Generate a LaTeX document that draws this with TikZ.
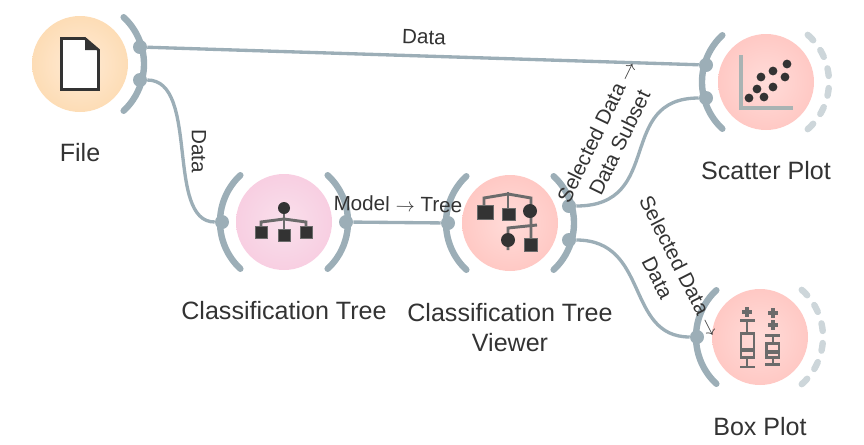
\documentclass[tikz,border=0pt]{standalone}
\usepackage{fontspec}
\setmainfont{Liberation Sans}

\definecolor{linkc}{HTML}{9CAEB7}
\definecolor{slotc}{HTML}{CDD6DA}
\definecolor{darkc}{HTML}{333333}
\definecolor{stemc}{HTML}{6B6B6B}
\definecolor{axisc}{HTML}{A9B3B3}
\definecolor{fileinner}{HTML}{FFEBD6}
\definecolor{fileouter}{HTML}{FBCE95}
\definecolor{treeinner}{HTML}{F9E0EC}
\definecolor{treeouter}{HTML}{F7BDD7}
\definecolor{plotinner}{HTML}{FFDCD9}
\definecolor{plotouter}{HTML}{FFB5AF}
\pgfdeclareradialshading{fileshade}{\pgfpoint{0bp}{0bp}}{color(0bp)=(fileinner); color(50bp)=(fileouter)}
\pgfdeclareradialshading{treeshade}{\pgfpoint{0bp}{0bp}}{color(0bp)=(treeinner); color(50bp)=(treeouter)}
\pgfdeclareradialshading{plotshade}{\pgfpoint{0bp}{0bp}}{color(0bp)=(plotinner); color(50bp)=(plotouter)}

\begin{document}
\begin{tikzpicture}[
  x=0.75pt, y=-0.75pt,
  widget/.style={circle, minimum size=72pt, inner sep=0pt},
  filew/.style={widget, shading=fileshade},
  treew/.style={widget, shading=treeshade},
  plotw/.style={widget, shading=plotshade},
  title/.style={font=\fontsize{18.8}{22.5}\selectfont, text=darkc, align=center},
  port/.style={circle, fill=linkc, minimum size=10.5pt, inner sep=0pt},
  slot/.style={linkc, line width=4.8pt, line cap=round},
  free/.style={slotc, line width=4.8pt, line cap=round},
  link/.style={linkc, line width=2.5pt},
  tag/.style={font=\fontsize{15.5}{19}\selectfont, text=darkc, align=center, inner sep=0pt},
  stem/.style={stemc, line width=2.2pt},
  leaf/.style={fill=darkc, draw=stemc, line width=0.5pt},
  dot/.style={fill=darkc}]

\useasboundingbox (0,0) rectangle (864,444);

% widgets
\node[filew] (file) at (80,64) {};
\node[treew] (tree) at (284,222) {};
\node[plotw] (viewer) at (510,223) {};
\node[plotw] (scatter) at (766,82) {};
\node[plotw] (box) at (760,337) {};

% titles
\node[title] (filet) at (80,153) {File};
\node[title] (treet) at (284,311) {Classification Tree};
\node[title] (viewert) at (510,328) {Classification Tree\\Viewer};
\node[title] (scattert) at (766,171) {Scatter Plot};
\node[title] (boxt) at (760,427) {Box Plot};

% channel arcs
\draw[slot] (file) ++(-47:64) arc[start angle=-47, end angle=47, radius=64];
\draw[slot] (tree) ++(133:64) arc[start angle=133, end angle=227, radius=64];
\draw[slot] (tree) ++(-47:64) arc[start angle=-47, end angle=47, radius=64];
\draw[slot] (viewer) ++(133:64) arc[start angle=133, end angle=227, radius=64];
\draw[slot] (viewer) ++(-47:64) arc[start angle=-47, end angle=47, radius=64];
\draw[slot] (scatter) ++(133:64) arc[start angle=133, end angle=227, radius=64];
\draw[slot] (box) ++(133:64) arc[start angle=133, end angle=227, radius=64];

% unused outputs
\foreach \a in {-45,-27,-9,9,27,45} {
  \draw[free] (scatter) ++(\a-3.5:63) arc[start angle=\a-3.5, end angle=\a+3.5, radius=63];
  \draw[free] (box) ++(\a-3.5:63) arc[start angle=\a-3.5, end angle=\a+3.5, radius=63];
}

% ports
\node[port] (fileo1) at (140,47) {};
\node[port] (fileo2) at (140,80) {};
\node[port] (treei) at (222,222) {};
\node[port] (treeo) at (346,222) {};
\node[port] (vieweri) at (448,223) {};
\node[port] (viewero1) at (569,206) {};
\node[port] (viewero2) at (569,240) {};
\node[port] (scatteri1) at (706,65) {};
\node[port] (scatteri2) at (706,98) {};
\node[port] (boxi) at (697,337) {};

% links
\draw[link] (fileo1) -- (scatteri1);
\draw[link] (fileo2) .. controls (200,80) and (165,222) .. (treei);
\draw[link] (treeo) -- (vieweri);
\draw[link] (viewero1) .. controls (665,206) and (615,98) .. (scatteri2);
\draw[link] (viewero2) .. controls (650,240) and (625,337) .. (boxi);

% link labels
\node[tag, rotate=-2] (data1) at (424,37) {Data};
\node[tag, rotate=-90] (data2) at (199,151) {Data};
\node[tag, rotate=-1] (model) at (398,204) {Model $\rightarrow$ Tree};
\node[tag, rotate=64] (sel1) at (608,137) {Selected Data $\rightarrow$\\Data Subset};
\node[tag, rotate=-63] (sel2) at (669,272) {Selected Data $\rightarrow$\\Data};

% file icon
\draw[darkc, line width=2pt, fill=white, line join=miter] (61.5,38.5) -- (85,38.5) -- (98.5,50) -- (98.5,89.5) -- (61.5,89.5) -- cycle;
\fill[darkc] (85,38.5) -- (98.5,50) -- (85,50) -- cycle;

% tree icon
\draw[stem] (284,208) -- (284,232);
\draw[stem] (261,232) -- (261,222) -- (284,219) -- (306,222) -- (306,232);
\fill[dot] (284,208) circle[radius=6];
\filldraw[leaf] (255,226.5) rectangle (267,238);
\filldraw[leaf] (278,229.5) rectangle (290,241);
\filldraw[leaf] (300.5,226.5) rectangle (312,238);

% viewer icon
\draw[stem] (508,192) -- (508,214);
\draw[stem] (484,212) -- (484,198) -- (508,194) -- (531,198) -- (531,244);
\draw[stem] (508,250) -- (508,228) -- (537,225);
\filldraw[leaf] (477,205) rectangle (493,219);
\filldraw[leaf] (502,208) rectangle (515,220);
\fill[dot] (530,211) circle[radius=7];
\fill[dot] (508,240) circle[radius=7];
\filldraw[leaf] (524,238) rectangle (537,251);

% scatter icon
\draw[axisc, line width=2.4pt] (741,55) -- (741,108) -- (793,108);
\foreach \px/\py in {749/98, 757/89, 764/97, 761/77, 773/87, 773/71, 785/77, 787/64}
  \fill[dot] (\px,\py) circle[radius=4.4];

% box icon
\begin{scope}[stem]
  \draw (747,321) -- (747,333) (740,320.5) -- (755,320.5);
  \draw[line width=3pt] (742,312) -- (752,312) (747,307) -- (747,317);
  \draw (747,358) -- (747,367) (740,367) -- (755,367);
  \draw (741,333.5) rectangle (754,357.5);
  \draw[line width=3pt] (741,350) -- (754,350);
  \draw[line width=3pt] (768,313) -- (778,313) (773,308) -- (773,318);
  \draw[line width=3pt] (768,325) -- (778,325) (773,320) -- (773,330);
  \draw (765,335.5) -- (780,335.5) (773,336) -- (773,343);
  \draw (766.5,343.5) rectangle (779,357.5);
  \draw[line width=3pt] (766.5,352) -- (779,352);
  \draw (773,358) -- (773,364) (765,364.5) -- (780,364.5);
\end{scope}
\end{tikzpicture}
\end{document}
